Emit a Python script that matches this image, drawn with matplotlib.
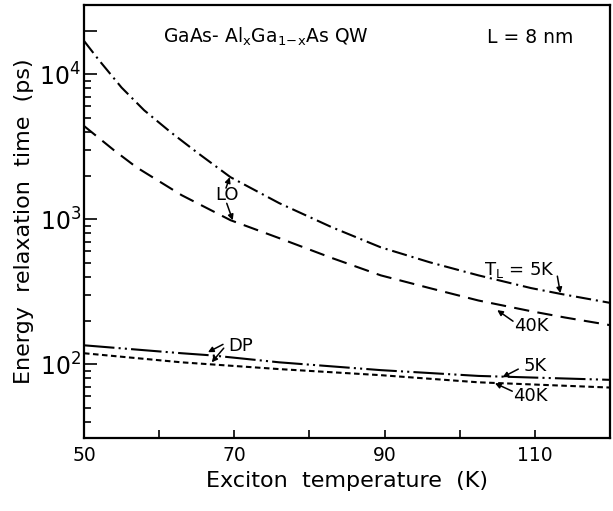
import numpy as np
from matplotlib import pyplot as plt
from matplotlib.ticker import FixedLocator, NullFormatter

plt.rcParams['font.family'] = ['DejaVu Sans']
plt.rcParams['mathtext.default'] = 'regular'
plt.rcParams['lines.scale_dashes'] = False

# LO phonon scattering, lattice temperature 5 K and 40 K
lo_5k_T = [50, 52, 55, 58, 61.5, 65, 69.5, 76, 83, 89.5, 96, 102.5, 109.5, 113.5, 120]
lo_5k = [17000, 12500, 8100, 5650, 4000, 2900, 1950, 1290, 880, 640, 505, 410, 335, 305, 265]
lo_40k_T = [50, 54, 57, 63, 69.5, 76, 83, 89.5, 96, 102.5, 109.5, 114, 120]
lo_40k = [4400, 2990, 2280, 1465, 985, 740, 540, 410, 335, 275, 232, 210, 186]

# deformation potential (acoustic) scattering
dp_5k_T = [50, 63, 67, 76, 89.5, 102.5, 120]
dp_5k = [135, 119, 115, 103, 91, 83, 78]
dp_40k_T = [50, 63, 76, 89.5, 102.5, 120]
dp_40k = [119, 103, 92.5, 84, 75, 69]

x_ticks = [50, 60, 70, 80, 90, 100, 110, 120]
x_labels = ['50', '', '70', '', '90', '', '110', '']
y_major = [1e2, 1e3, 1e4, 2e4]
y_labels = ['$10^2$', '$10^3$', '$10^4$', '']

fig = plt.figure(figsize=(6.13, 5.11), dpi=100)
ax = fig.add_axes([0.137, 0.143, 0.858, 0.847])

lw = 1.5
ax.plot(lo_5k_T, lo_5k, color='k', lw=lw, dashes=(11, 3.5, 1.5, 3.5))
ax.plot(lo_40k_T, lo_40k, color='k', lw=lw, dashes=(11, 6))
ax.plot(dp_5k_T, dp_5k, color='k', lw=lw, dashes=(22, 3, 1.5, 3, 1.5, 3))
ax.plot(dp_40k_T, dp_40k, color='k', lw=lw, dashes=(4, 2.5))

ax.set_yscale('log')
ax.set_xlim(50, 120)
ax.set_ylim(31, 3e4)

ax.set_xticks(x_ticks)
ax.set_xticklabels(x_labels)
ax.yaxis.set_major_locator(FixedLocator(y_major))
ax.set_yticklabels(y_labels)
minors = [m * 10.0 ** e for e in (1, 2, 3) for m in range(2, 10)]
ax.yaxis.set_minor_locator(FixedLocator(minors))
ax.yaxis.set_minor_formatter(NullFormatter())

ax.tick_params(axis='x', direction='in', length=6, width=1.2, labelsize=13.5, pad=6)
ax.tick_params(axis='y', which='major', direction='in', length=9, width=1.2, labelsize=17, pad=2)
ax.tick_params(axis='y', which='minor', direction='in', length=5, width=1.2)
for s in ax.spines.values():
    s.set_linewidth(1.6)

ax.set_xlabel('Exciton  temperature  (K)', fontsize=16, labelpad=4)
ax.set_ylabel('Energy  relaxation  time  (ps)', fontsize=16, labelpad=4)

ax.text(0.15, 0.926, 'GaAs- Al$_x$Ga$_{1\\!-\\!x}$As QW', transform=ax.transAxes,
        fontsize=13.5, va='center', ha='left')
ax.text(0.848, 0.926, 'L = 8 nm', transform=ax.transAxes, fontsize=13.5,
        va='center', ha='center')

arrow = dict(arrowstyle='-|>', color='k', lw=1.1, mutation_scale=8, shrinkA=0, shrinkB=0)

def arr(head, tail):
    ax.annotate('', xy=head, xytext=tail, arrowprops=arrow)

fs = 13
ax.text(69.0, 1466, 'LO', fontsize=fs, ha='center', va='center')
arr((69.4, 1950), (68.9, 1640))
arr((69.8, 984), (69.0, 1288))

ax.text(108.0, 445, '$T_L$ = 5K', fontsize=fs, ha='center', va='center')
arr((113.4, 309), (113.0, 405))

ax.text(109.6, 183, '40K', fontsize=fs, ha='center', va='center')
arr((105.0, 236), (107.1, 198))

ax.text(70.8, 133, 'DP', fontsize=fs, ha='center', va='center')
arr((66.5, 121), (68.5, 137))
arr((67.0, 103), (68.6, 129))

ax.text(110.0, 96.9, '5K', fontsize=fs, ha='center', va='center')
arr((105.7, 81.3), (107.8, 92.5))

ax.text(109.4, 60.1, '40K', fontsize=fs, ha='center', va='center')
arr((104.7, 73.9), (107.0, 65.1))

fig.savefig('out.png', dpi=100)
